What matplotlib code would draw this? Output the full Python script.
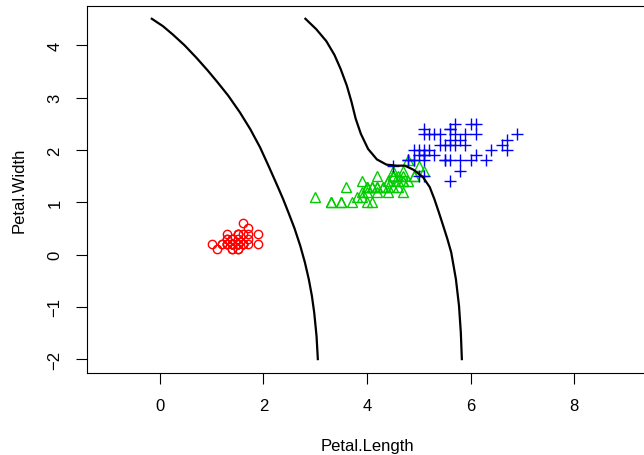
import numpy as np
import matplotlib.pyplot as plt

plt.rcParams['font.family'] = ['Liberation Sans', 'DejaVu Sans']

# iris petal measurements
setosa_len = [1.4, 1.4, 1.3, 1.5, 1.4, 1.7, 1.4, 1.5, 1.4, 1.5, 1.5, 1.6, 1.4, 1.1, 1.2, 1.5, 1.3, 1.4, 1.7, 1.5,
              1.7, 1.5, 1.0, 1.7, 1.9, 1.6, 1.6, 1.5, 1.4, 1.6, 1.6, 1.5, 1.5, 1.4, 1.5, 1.2, 1.3, 1.4, 1.3, 1.5,
              1.3, 1.3, 1.3, 1.6, 1.9, 1.4, 1.6, 1.4, 1.5, 1.4]
setosa_wid = [0.2, 0.2, 0.2, 0.2, 0.2, 0.4, 0.3, 0.2, 0.2, 0.1, 0.2, 0.2, 0.1, 0.1, 0.2, 0.4, 0.4, 0.3, 0.3, 0.3,
              0.2, 0.4, 0.2, 0.5, 0.2, 0.2, 0.4, 0.2, 0.2, 0.2, 0.2, 0.4, 0.1, 0.2, 0.2, 0.2, 0.2, 0.1, 0.2, 0.2,
              0.3, 0.3, 0.2, 0.6, 0.4, 0.3, 0.2, 0.2, 0.2, 0.2]
versi_len = [4.7, 4.5, 4.9, 4.0, 4.6, 4.5, 4.7, 3.3, 4.6, 3.9, 3.5, 4.2, 4.0, 4.7, 3.6, 4.4, 4.5, 4.1, 4.5, 3.9,
             4.8, 4.0, 4.9, 4.7, 4.3, 4.4, 4.8, 5.0, 4.5, 3.5, 3.8, 3.7, 3.9, 5.1, 4.5, 4.5, 4.7, 4.4, 4.1, 4.0,
             4.4, 4.6, 4.0, 3.3, 4.2, 4.2, 4.2, 4.3, 3.0, 4.1]
versi_wid = [1.4, 1.5, 1.5, 1.3, 1.5, 1.3, 1.6, 1.0, 1.3, 1.4, 1.0, 1.5, 1.0, 1.4, 1.3, 1.4, 1.5, 1.0, 1.5, 1.1,
             1.8, 1.3, 1.5, 1.2, 1.3, 1.4, 1.4, 1.7, 1.5, 1.0, 1.1, 1.0, 1.2, 1.6, 1.5, 1.6, 1.5, 1.3, 1.3, 1.3,
             1.2, 1.4, 1.2, 1.0, 1.3, 1.2, 1.3, 1.3, 1.1, 1.3]
virg_len = [6.0, 5.1, 5.9, 5.6, 5.8, 6.6, 4.5, 6.3, 5.8, 6.1, 5.1, 5.3, 5.5, 5.0, 5.1, 5.3, 5.5, 6.7, 6.9, 5.0,
            5.7, 4.9, 6.7, 4.9, 5.7, 6.0, 4.8, 4.9, 5.6, 5.8, 6.1, 6.4, 5.6, 5.1, 5.6, 6.1, 5.6, 5.5, 4.8, 5.4,
            5.6, 5.1, 5.1, 5.9, 5.7, 5.2, 5.0, 5.2, 5.4, 5.1]
virg_wid = [2.5, 1.9, 2.1, 1.8, 2.2, 2.1, 1.7, 1.8, 1.8, 2.5, 2.0, 1.9, 2.1, 2.0, 2.4, 2.3, 1.8, 2.2, 2.3, 1.5,
            2.3, 2.0, 2.0, 1.8, 2.1, 1.8, 1.8, 1.8, 2.1, 1.6, 1.9, 2.0, 2.2, 1.5, 1.4, 2.3, 2.4, 1.8, 1.8, 2.1,
            2.4, 2.3, 1.9, 2.3, 2.5, 2.3, 1.9, 2.0, 2.3, 1.8]

# decision boundaries
b1_x = [-0.155, 0.058, 0.255, 0.48, 0.71, 0.925, 1.11, 1.32, 1.545, 1.745, 1.935, 2.11, 2.28,
        2.38, 2.48, 2.60, 2.71, 2.80, 2.875, 2.935, 2.98, 3.025, 3.05]
b1_y = [4.51, 4.37, 4.205, 4.00, 3.76, 3.52, 3.30, 3.04, 2.72, 2.40, 2.05, 1.67, 1.29,
        1.06, 0.81, 0.50, 0.17, -0.15, -0.47, -0.79, -1.11, -1.56, -2.0]
b2_x = [2.81, 3.02, 3.215, 3.37, 3.49, 3.61, 3.70, 3.78, 3.88, 4.02, 4.19, 4.375, 4.57, 4.73,
        4.90, 5.08, 5.21, 5.30, 5.385, 5.47, 5.55, 5.625, 5.715, 5.775, 5.81, 5.83]
b2_y = [4.51, 4.31, 4.08, 3.82, 3.55, 3.23, 2.92, 2.60, 2.31, 2.02, 1.82, 1.72, 1.70, 1.70,
        1.62, 1.48, 1.29, 1.06, 0.81, 0.55, 0.30, 0.04, -0.47, -0.98, -1.49, -2.0]

fig = plt.figure(figsize=(6.44, 4.56), dpi=100)
ax = fig.add_axes([87.3 / 644, 82.3 / 456, (646.8 - 87.3) / 644, (449.3 - 82.3) / 456])

ax.plot(setosa_len, setosa_wid, 'o', ms=6, mfc='none', mec='#FF0000', mew=1)
ax.plot(versi_len, versi_wid, '^', ms=7, mfc='none', mec='#00CD00', mew=1)
ax.plot(virg_len, virg_wid, '+', ms=8, mec='#0000FF', mew=1)
ax.plot(b1_x, b1_y, color='black', lw=1.6, solid_joinstyle='round')
ax.plot(b2_x, b2_y, color='black', lw=1.6, solid_joinstyle='round')

ax.set_xlim(-1.4, 9.4)
ax.set_ylim(-2.26, 4.76)
ax.set_xticks([0, 2, 4, 6, 8])
ax.set_yticks([-2, -1, 0, 1, 2, 3, 4])
ax.set_yticklabels(['\u22122', '\u22121', '0', '1', '2', '3', '4'], rotation=90, va='center')
ax.tick_params(length=7.9, width=0.8, labelsize=12, pad=10)
for s in ax.spines.values():
    s.set_linewidth(0.8)
ax.set_xlabel('Petal.Length', fontsize=12, labelpad=18)
ax.set_ylabel('Petal.Width', fontsize=12, labelpad=15)

fig.savefig('out.png', dpi=100)
